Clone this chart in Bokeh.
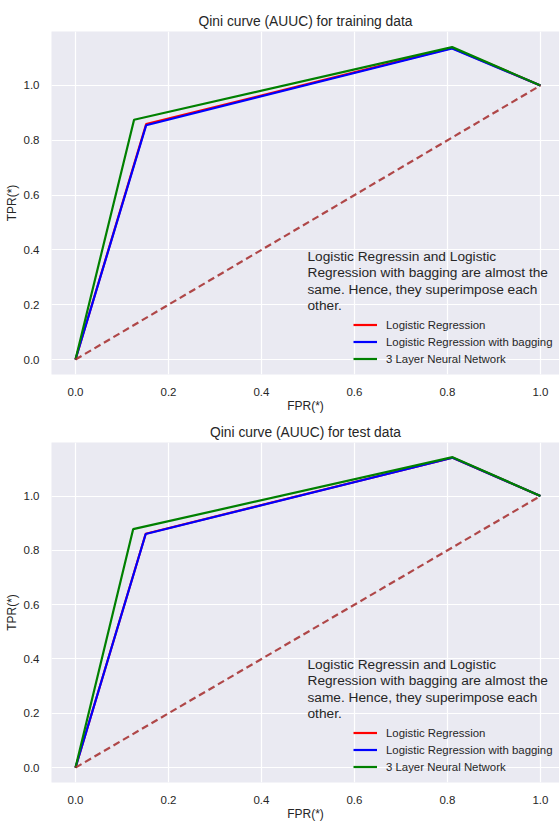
from bokeh.plotting import figure
from bokeh.layouts import column
from bokeh.models import Range1d, FixedTicker, PrintfTickFormatter, Label, Legend
from bokeh.embed import file_html
from bokeh.resources import INLINE

# ---- data ----
series_names = ["Logistic Regression", "Logistic Regression with bagging", "3 Layer Neural Network"]
series_colors = ["#ff0000", "#0000ff", "#008000"]

train_lr_x = [0.0, 0.152, 0.81, 1.0]
train_lr_y = [0.0, 0.859, 1.137, 1.0]
train_bag_x = [0.0, 0.152, 0.81, 1.0]
train_bag_y = [0.0, 0.855, 1.135, 1.0]
train_nn_x = [0.0, 0.126, 0.81, 1.0]
train_nn_y = [0.0, 0.875, 1.14, 1.0]

test_lr_x = [0.0, 0.151, 0.811, 1.0]
test_lr_y = [0.0, 0.861, 1.141, 1.0]
test_bag_x = [0.0, 0.151, 0.811, 1.0]
test_bag_y = [0.0, 0.860, 1.141, 1.0]
test_nn_x = [0.0, 0.124, 0.811, 1.0]
test_nn_y = [0.0, 0.878, 1.143, 1.0]

diag_x = [0.0, 1.0]
diag_y = [0.0, 1.0]

tick_values = [0.0, 0.2, 0.4, 0.6, 0.8, 1.0]
x_label = "FPR(*)"
y_label = "TPR(*)"
note_lines = ["Logistic Regressin and Logistic",
              "Regression with bagging are almost the",
              "same. Hence, they superimpose each",
              "other."]

FONT = "Liberation Sans"
TXT = "#262626"


def make_fig(title, curves, height, top, bottom):
    p = figure(width=559, height=height, output_backend="svg", toolbar_location=None,
               x_range=Range1d(-0.0516, 1.041), y_range=Range1d(-0.0547, 1.197),
               min_border_left=51, min_border_right=0, min_border_top=top,
               min_border_bottom=bottom)
    p.title.text = title
    p.title.align = "center"
    p.title.text_font = FONT
    p.title.text_font_size = "13.8px"
    p.title.text_font_style = "normal"
    p.title.text_color = TXT
    p.title.standoff = 5
    p.background_fill_color = "#EAEAF2"
    p.border_fill_color = "white"
    p.outline_line_color = None
    for g in (p.xgrid, p.ygrid):
        g.grid_line_color = "white"
        g.grid_line_width = 1.2
    for ax in (p.xaxis, p.yaxis):
        ax.ticker = FixedTicker(ticks=tick_values)
        ax.formatter = PrintfTickFormatter(format="%.1f")
        ax.axis_line_color = None
        ax.major_tick_line_color = None
        ax.minor_tick_line_color = None
        ax.major_label_text_font = FONT
        ax.major_label_text_font_size = "11.5px"
        ax.major_label_text_color = TXT
        ax.axis_label_text_font = FONT
        ax.axis_label_text_font_size = "12px"
        ax.axis_label_text_font_style = "normal"
        ax.axis_label_text_color = TXT
    p.yaxis.axis_label = y_label
    p.xaxis.axis_label = x_label
    p.yaxis.major_label_standoff = 6
    p.yaxis.axis_label_standoff = 2
    p.xaxis.major_label_standoff = 7
    p.xaxis.axis_label_standoff = 0

    items = []
    for (xs, ys), name, col in zip(curves, series_names, series_colors):
        r = p.line(xs, ys, line_color=col, line_width=2.2)
        items.append((name, [r]))
    p.line(diag_x, diag_y, line_color="#A52A2A", line_alpha=0.85, line_width=2.2,
           line_dash="7 4")

    leg = Legend(items=items, location=(302, 8), padding=0, margin=0, spacing=2,
                 glyph_width=24, glyph_height=15, label_height=15, label_standoff=9,
                 background_fill_alpha=0, border_line_color=None,
                 label_text_font=FONT, label_text_font_size="11.4px",
                 label_text_color=TXT)
    p.add_layout(leg, "center")

    offsets = [118, 102, 85, 69]
    for line, off in zip(note_lines, offsets):
        p.add_layout(Label(x=256, y=off, x_units="screen", y_units="screen", text=line,
                           text_font=FONT, text_font_size="13.7px", text_color=TXT,
                           text_baseline="middle", text_align="left"))
    return p


p1 = make_fig("Qini curve (AUUC) for training data",
              [(train_lr_x, train_lr_y), (train_bag_x, train_bag_y), (train_nn_x, train_nn_y)],
              height=419, top=31, bottom=45)
p2 = make_fig("Qini curve (AUUC) for test data",
              [(test_lr_x, test_lr_y), (test_bag_x, test_bag_y), (test_nn_x, test_nn_y)],
              height=404, top=23, bottom=38)

layout = column(p1, p2, spacing=0)
open("out.html", "w").write(file_html(layout, INLINE))
